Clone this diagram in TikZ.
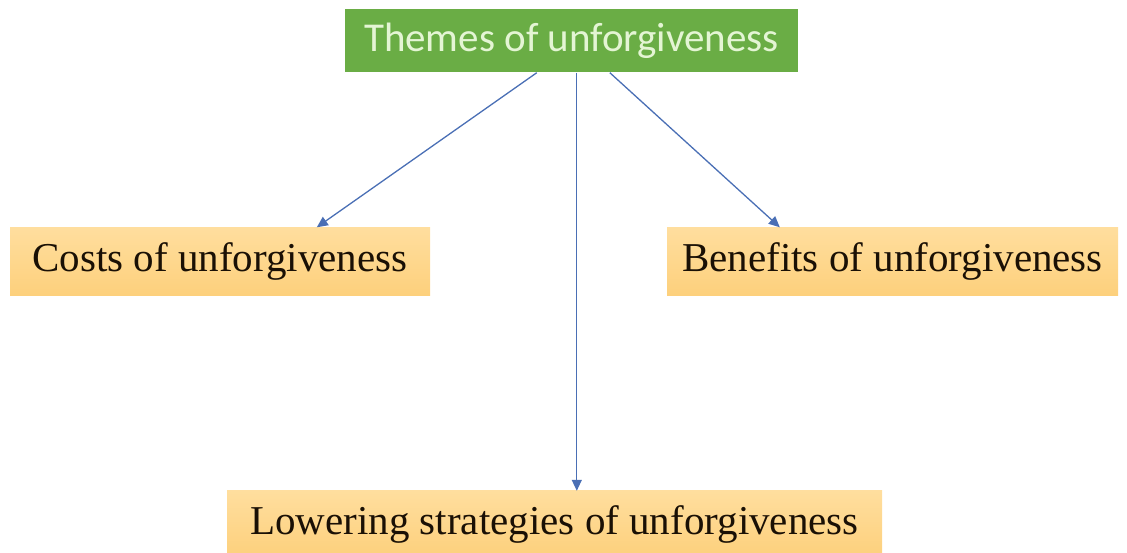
\documentclass[tikz,border=0pt]{standalone}
\usepackage{fontspec}
\setmainfont{Liberation Serif}
\newfontfamily\calibrifont{Carlito}
\usetikzlibrary{calc,arrows.meta}
\definecolor{greenbox}{HTML}{6AAD45}
\definecolor{greentext}{HTML}{E4F5D4}
\definecolor{orangetop}{HTML}{FFDE9E}
\definecolor{orangebot}{HTML}{FDD07C}
\definecolor{arrowblue}{HTML}{4A6FB5}
\definecolor{darktext}{HTML}{1A1005}
\tikzset{
  themebox/.style={fill=greenbox, text=greentext, inner sep=0pt, font=\calibrifont\fontsize{41}{41}\selectfont},
  leafbox/.style={top color=orangetop, bottom color=orangebot, draw=none, text=darktext, inner sep=0pt, font=\fontsize{41}{41}\selectfont},
  arr/.style={draw=arrowblue, line width=1.3pt, -{Triangle[length=11pt,width=10pt]}, shorten >=0pt}
}
\begin{document}
\begin{tikzpicture}[x=1pt,y=1pt]
\useasboundingbox (0,0) rectangle (1127,553);
\node[themebox, minimum width=453pt, minimum height=63pt] (theme) at (571.5,512) {Themes of unforgiveness};
\node[leafbox, minimum width=420pt, minimum height=68pt] (costs) at (220,291.5) {Costs of unforgiveness};
\node[leafbox, minimum width=451pt, minimum height=68pt] (benefits) at (892.5,291.5) {Benefits of unforgiveness};
\node[leafbox, minimum width=655pt, minimum height=66pt] (lower) at (554.5,29) {Lowering strategies of unforgiveness};
\draw[arr] ($(theme.south west)+(192,0)$) -- ($(costs.north west)+(307,0)$);
\draw[arr] ($(theme.south west)+(265,0)$) -- ($(benefits.north west)+(113,0)$);
\draw[arr] ($(theme.south west)+(232,0)$) -- ($(lower.north west)+(350,0)$);
\end{tikzpicture}
\end{document}
